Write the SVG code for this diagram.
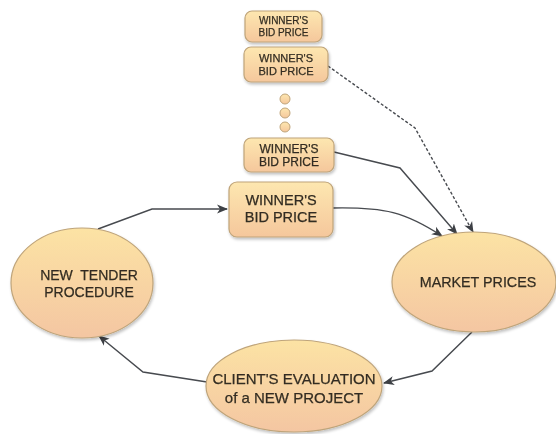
<svg xmlns="http://www.w3.org/2000/svg" width="556" height="434" viewBox="0 0 556 434">
  <style>
    .node { stroke: #bfa47a; stroke-width: 1.2; }
    .box { fill: url(#boxFill); }
    .oval { fill: url(#ovalFill); }
    .lbl { font-family: "Liberation Sans", Arial, sans-serif; fill: #332d22; stroke: #332d22; stroke-width: 0.25; text-anchor: middle; }
    .link { fill: none; stroke: #474a4f; stroke-width: 1.4; }
    .dash { stroke-dasharray: 3 2; }
    .dot { fill: url(#boxFill); stroke: #bfa47a; stroke-width: 1; }
  </style>
  <defs>
    <linearGradient id="boxFill" x1="0" y1="0" x2="0" y2="1">
      <stop offset="0" stop-color="#fde7b0"/>
      <stop offset="1" stop-color="#f5c79c"/>
    </linearGradient>
    <linearGradient id="ovalFill" x1="0" y1="0" x2="0" y2="1">
      <stop offset="0" stop-color="#fce3a4"/>
      <stop offset="1" stop-color="#f4c6a2"/>
    </linearGradient>
    <filter id="shadow" x="-20%" y="-20%" width="140%" height="150%">
      <feGaussianBlur in="SourceAlpha" stdDeviation="1.5"/>
      <feOffset dx="1" dy="2" result="b"/>
      <feComponentTransfer><feFuncA type="linear" slope="0.25"/></feComponentTransfer>
      <feMerge><feMergeNode/><feMergeNode in="SourceGraphic"/></feMerge>
    </filter>
    <marker id="arrow" markerWidth="12" markerHeight="10" refX="10" refY="5" orient="auto" markerUnits="userSpaceOnUse">
      <path d="M0,0.5 L11,5 L0,9.5 L3,5 z" fill="#3d4045"/>
    </marker>
  </defs>

  <!-- connectors -->
  <g id="connectors">
    <path class="link" d="M98,229 L152,209 L227,209" marker-end="url(#arrow)"/>
    <path class="link" d="M333,208 C385,207 405,212 442,236" marker-end="url(#arrow)"/>
    <path class="link" d="M334,152 L400,168 L457,234" marker-end="url(#arrow)"/>
    <path class="link dash" d="M328,66 L415,128 L473,232" marker-end="url(#arrow)"/>
    <path class="link" d="M472,332 L432,371 L384,383" marker-end="url(#arrow)"/>
    <path class="link" d="M207,382 L143,372 L99,336" marker-end="url(#arrow)"/>
  </g>

  <g id="bid1" filter="url(#shadow)">
    <rect class="node box" x="245" y="11" width="77" height="31" rx="7"/>
    <text class="lbl" x="283.5" y="24" font-size="10">WINNER'S</text>
    <text class="lbl" x="283.5" y="36" font-size="10">BID PRICE</text>
  </g>
  <g id="bid2" filter="url(#shadow)">
    <rect class="node box" x="244" y="47" width="84" height="35" rx="7"/>
    <text class="lbl" x="286" y="62" font-size="11">WINNER'S</text>
    <text class="lbl" x="286" y="75" font-size="11">BID PRICE</text>
  </g>
  <g id="ellipsis">
    <circle class="dot" cx="285" cy="99" r="5"/>
    <circle class="dot" cx="285" cy="113" r="5"/>
    <circle class="dot" cx="285" cy="127" r="5"/>
  </g>
  <g id="bid3" filter="url(#shadow)">
    <rect class="node box" x="244" y="138" width="90" height="34" rx="7"/>
    <text class="lbl" x="289" y="153" font-size="12">WINNER'S</text>
    <text class="lbl" x="289" y="166" font-size="12">BID PRICE</text>
  </g>
  <g id="bid4" filter="url(#shadow)">
    <rect class="node box" x="229" y="182" width="104" height="55" rx="8"/>
    <text class="lbl" x="281" y="205" font-size="14.5">WINNER'S</text>
    <text class="lbl" x="281" y="222" font-size="14.5">BID PRICE</text>
  </g>
  <g id="tender" filter="url(#shadow)">
    <ellipse class="node oval" cx="82" cy="283" rx="71" ry="55"/>
    <text class="lbl" x="89" y="280" font-size="14" xml:space="preserve">NEW  TENDER</text>
    <text class="lbl" x="89" y="297" font-size="14">PROCEDURE</text>
  </g>
  <g id="market" filter="url(#shadow)">
    <ellipse class="node oval" cx="474" cy="282" rx="82" ry="50"/>
    <text class="lbl" x="478" y="287" font-size="14.3">MARKET PRICES</text>
  </g>
  <g id="client" filter="url(#shadow)">
    <ellipse class="node oval" cx="294" cy="386" rx="88" ry="46"/>
    <text class="lbl" x="294" y="384" font-size="15">CLIENT'S EVALUATION</text>
    <text class="lbl" x="294" y="403" font-size="15">of a NEW PROJECT</text>
  </g>
</svg>
